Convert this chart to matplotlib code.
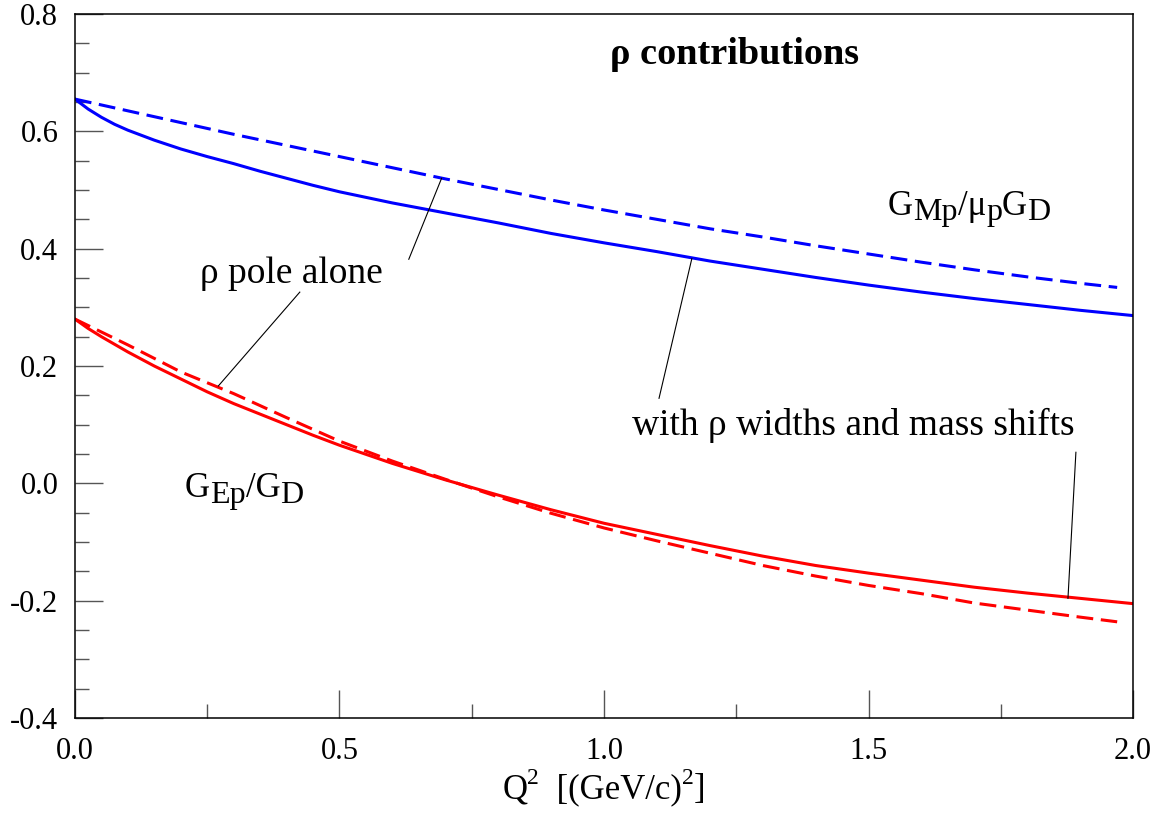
import matplotlib
matplotlib.use('Agg')
import matplotlib.pyplot as plt
from matplotlib.ticker import MultipleLocator, FormatStrFormatter

plt.rcParams['font.family'] = ['Liberation Serif', 'DejaVu Serif']
plt.rcParams['axes.unicode_minus'] = False

# Q^2 grid for the curves, (GeV/c)^2
q2 = [0.0, 0.025, 0.05, 0.075, 0.1, 0.15, 0.2, 0.25, 0.3, 0.35, 0.4, 0.45, 0.5,
      0.6, 0.7, 0.8, 0.9, 1.0, 1.1, 1.2, 1.3, 1.4, 1.5, 1.6, 1.7, 1.8, 1.9, 2.0]
gm_full = [0.655, 0.638, 0.624, 0.612, 0.602, 0.585, 0.570, 0.557, 0.545, 0.532, 0.520, 0.508, 0.497,
           0.478, 0.461, 0.444, 0.426, 0.410, 0.395, 0.379, 0.365, 0.351, 0.338, 0.326, 0.315,
           0.305, 0.295, 0.286]
ge_full = [0.280, 0.264, 0.250, 0.237, 0.224, 0.200, 0.178, 0.156, 0.136, 0.118, 0.100, 0.082, 0.065,
           0.034, 0.006, -0.020, -0.045, -0.068, -0.087, -0.106, -0.124, -0.140, -0.153, -0.165,
           -0.177, -0.187, -0.196, -0.205]

# rho pole alone stops a bit before 2.0
q2_pole = [0.0, 0.1, 0.2, 0.3, 0.4, 0.5, 0.6, 0.7, 0.8, 0.9, 1.0,
           1.1, 1.2, 1.3, 1.4, 1.5, 1.6, 1.7, 1.8, 1.9, 1.97]
gm_pole = [0.655, 0.635, 0.615, 0.595, 0.576, 0.557, 0.538, 0.519, 0.501, 0.483, 0.466,
           0.450, 0.434, 0.420, 0.405, 0.391, 0.377, 0.364, 0.352, 0.341, 0.334]
ge_pole = [0.280, 0.236, 0.190, 0.153, 0.112, 0.072, 0.038, 0.007, -0.023, -0.051, -0.076,
           -0.098, -0.119, -0.140, -0.158, -0.174, -0.188, -0.204, -0.216, -0.228, -0.236]

fig = plt.figure(figsize=(11.64, 8.40), dpi=100)
ax = fig.add_axes([0.0644, 0.1452, 0.909, 0.8381])

lw = 2.2
ax.plot(q2, gm_full, color='#0000ff', lw=lw)
ax.plot(q2_pole, gm_pole, color='#0000ff', lw=lw, dashes=(5.5, 2.5))
ax.plot(q2, ge_full, color='#ff0000', lw=lw)
ax.plot(q2_pole, ge_pole, color='#ff0000', lw=lw, dashes=(5.5, 2.5))

# leader lines
leaders = [((0.631, 0.693), (0.382, 0.520)),
           ((0.425, 0.271), (0.326, 0.166)),
           ((1.104, 1.166), (0.145, 0.383)),
           ((1.892, 1.877), (0.053, -0.196))]
for xs, ys in leaders:
    ax.plot(xs, ys, color='black', lw=0.8)

ax.set_xlim(0, 2.0)
ax.set_ylim(-0.4, 0.8)
ax.xaxis.set_major_locator(MultipleLocator(0.5))
ax.xaxis.set_minor_locator(MultipleLocator(0.25))
ax.yaxis.set_major_locator(MultipleLocator(0.2))
ax.yaxis.set_minor_locator(MultipleLocator(0.05))
ax.xaxis.set_major_formatter(FormatStrFormatter('%.1f'))
ax.yaxis.set_major_formatter(FormatStrFormatter('%.1f'))
ax.tick_params(which='both', direction='in', top=False, right=False,
               labelsize=22, color='#555555', width=1.0)
ax.tick_params(axis='x', which='major', length=20, pad=14)
ax.tick_params(axis='y', which='major', length=20, pad=12)
ax.tick_params(which='minor', length=10)
for s in ax.spines.values():
    s.set_linewidth(1.1)

ax.text(1.011, 0.714, 'ρ contributions', fontsize=27.5, fontweight='bold')
ax.text(0.237, 0.341, 'ρ pole alone', fontsize=27)
ax.text(1.053, 0.082, 'with ρ widths and mass shifts', fontsize=27)

renderer = fig.canvas.get_renderer()


def piecewise_label(x, y, parts, coords='data', center=False):
    # parts: (text, size, shift in points); sub/superscripts drawn as own texts
    widths = []
    for s, size, shift in parts:
        t = ax.annotate(s, (x, y), xycoords=coords, fontsize=size)
        widths.append(t.get_window_extent(renderer).width * 72.0 / fig.dpi)
        t.remove()
    off = -sum(widths) / 2 if center else 0.0
    for (s, size, shift), w in zip(parts, widths):
        ax.annotate(s, (x, y), xycoords=coords, xytext=(off, shift),
                    textcoords='offset points', fontsize=size,
                    va='baseline', ha='left', annotation_clip=False)
        off += w


piecewise_label(1.537, 0.457, [('G', 25, 0), ('Mp', 23, -3.6), ('/μ', 25, 0),
                               ('p', 23, -3.6), ('G', 25, 0), ('D', 23, -3.6)])
piecewise_label(0.208, -0.023, [('G', 25, 0), ('Ep', 23, -4.6), ('/G', 25, 0),
                                ('D', 23, -4.6)])
piecewise_label(604, 840 - 798, [('Q', 25, 0), ('2', 17, 10), ('  [(GeV/c)', 25, 0),
                                 ('2', 17, 10), (']', 25, 0)],
                coords='figure pixels', center=True)

fig.savefig('out.png', dpi=100)
